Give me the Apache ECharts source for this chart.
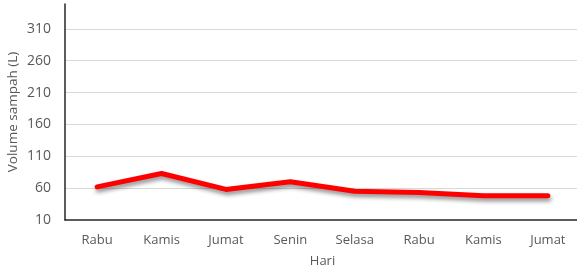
<!DOCTYPE html>
<html>
<head>
<meta charset="utf-8">
<script src="https://cdn.jsdelivr.net/npm/echarts@6/dist/echarts.min.js"></script>
<style>html,body{margin:0;padding:0;background:#fff}#c{width:577px;height:274px}</style>
</head>
<body>
<div id="c"></div>
<script>
const categories = ["Rabu", "Kamis", "Jumat", "Senin", "Selasa", "Rabu", "Kamis", "Jumat"];
const volume = [62, 83, 58, 70, 55, 53, 48, 48];
const yMin = 10, yMax = 349, yInterval = 50;
const xName = "Hari";
const yName = "Volume sampah (L)";

const chart = echarts.init(document.getElementById('c'), null, {renderer: 'canvas'});
const font = '"Open Sans", "Noto Sans", sans-serif';
chart.setOption({
  animation: false,
  grid: {left: 65, right: -3, top: 4, bottom: 54, containLabel: false, outerBoundsMode: 'none'},
  xAxis: {
    type: 'category',
    data: categories,
    boundaryGap: true,
    name: xName,
    nameLocation: 'middle',
    nameGap: 35,
    nameMoveOverlap: false,
    nameTextStyle: {color: '#595959', fontSize: 13, fontFamily: font},
    axisLine: {lineStyle: {color: '#262626', width: 1.5}},
    axisTick: {show: false},
    axisLabel: {color: '#595959', fontSize: 13, fontFamily: font, margin: 14}
  },
  yAxis: {
    type: 'value',
    min: yMin, max: yMax, interval: yInterval,
    name: yName,
    nameLocation: 'middle',
    nameGap: 45,
    nameMoveOverlap: false,
    nameTextStyle: {color: '#595959', fontSize: 13.5, fontFamily: font},
    axisLine: {show: true, lineStyle: {color: '#262626', width: 1.5}},
    axisTick: {show: false},
    axisLabel: {color: '#595959', fontSize: 14, fontFamily: font, margin: 14, showMaxLabel: false},
    splitLine: {show: true, showMinLine: false, showMaxLine: false, lineStyle: {color: '#d9d9d9', width: 1}}
  },
  series: [{
    type: 'line',
    data: volume,
    symbol: 'none',
    lineStyle: {color: '#ff0000', width: 5, shadowColor: 'rgba(0,0,0,0.45)', shadowBlur: 4, shadowOffsetY: 3, shadowOffsetX: 1, cap: 'round', join: 'round'}
  }]
});
</script>
</body>
</html>
